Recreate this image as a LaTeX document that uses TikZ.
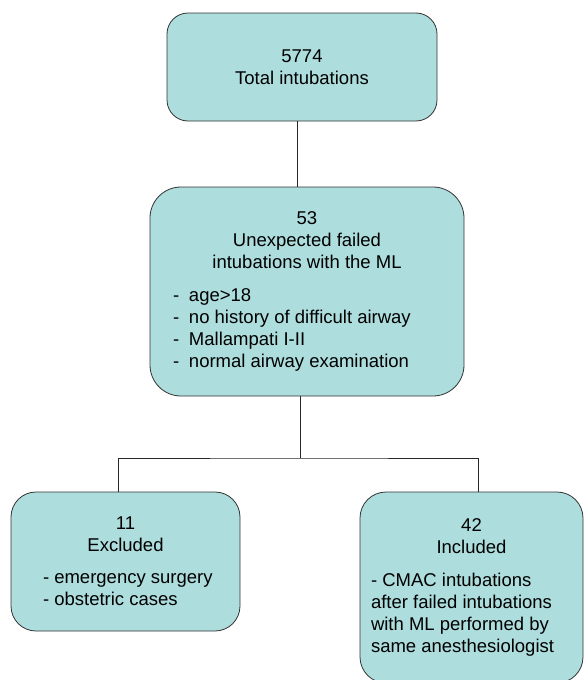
\documentclass[tikz,border=0pt]{standalone}
\usepackage{fontspec}
\setmainfont{Liberation Sans}
\usetikzlibrary{calc}

\definecolor{boxteal}{RGB}{173,221,221}
\tikzset{
  flowbox/.style={draw=black!80, fill=boxteal, line width=0.8pt,
    rounded corners=#1, align=center, inner sep=0pt,
    font=\fontsize{18.5}{22}\selectfont},
  link/.style={draw=black!85, line width=1pt},
}
\newcommand{\dashitem}[2]{\makebox[#1][l]{\makebox[16pt][l]{-}#2}}

\begin{document}
\begin{tikzpicture}[x=1pt, y=-1pt]
   % Sizes
   \pgfmathsetmacro{\gap}{11}
   \useasboundingbox (0,0) rectangle (584,680);

   % boxes
   \node[flowbox=21pt, minimum width=270pt, minimum height=108pt] (total) at (302,67)
     {5774\\Total intubations};
   \node[flowbox=31pt, minimum width=314pt, minimum height=209pt] (failed) at (307,291.5)
     {53\\Unexpected failed\\intubations with the ML\\[\gap pt]
      \dashitem{268pt}{age>18}\\
      \dashitem{268pt}{no history of difficult airway}\\
      \dashitem{268pt}{Mallampati I-II}\\
      \dashitem{268pt}{normal airway examination}};
   \node[flowbox=25pt, minimum width=229pt, minimum height=139pt] (excl) at (125.5,561.5)
     {11\\Excluded\\[10pt]
      \makebox[165pt][l]{- emergency surgery}\\
      \makebox[165pt][l]{- obstetric cases}};
   \node[flowbox=26pt, minimum width=223pt, minimum height=191pt] (incl) at (471.5,587.5)
     {42\\Included\\[\gap pt]
      \makebox[201pt][l]{- CMAC intubations}\\
      \makebox[201pt][l]{after failed intubations}\\
      \makebox[201pt][l]{with ML performed by}\\
      \makebox[201pt][l]{same anesthesiologist}};

   % connectors
   \coordinate (split) at (300,458);
   \draw[link] ([xshift=-5pt]total.south) -- ([xshift=-5pt]total.south |- failed.north);
   \draw[link] (failed.south -| split) -- (split);
   \draw[link] ([xshift=-7.5pt]excl.north) |- (split) -| ([xshift=6.5pt]incl.north);
\end{tikzpicture}
\end{document}
